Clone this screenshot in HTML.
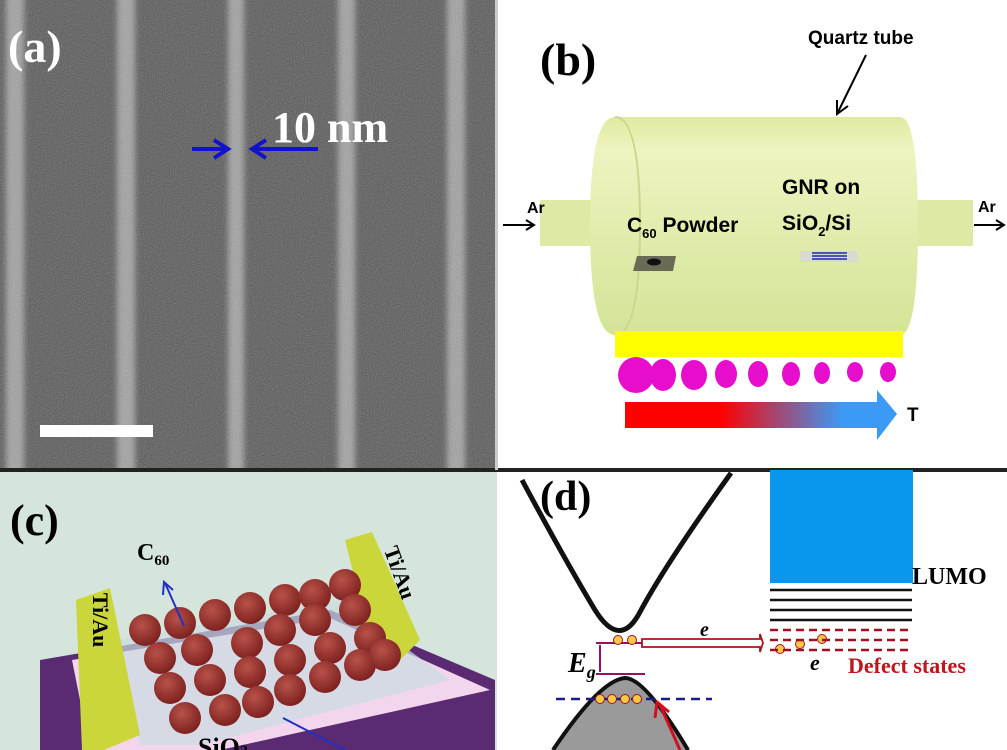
<!DOCTYPE html>
<html><head><meta charset="utf-8"><style>
html,body{margin:0;padding:0;background:#fff;}
svg{display:block;}
</style></head><body>
<svg width="1007" height="750" viewBox="0 0 1007 750" xmlns="http://www.w3.org/2000/svg">
<defs>
<filter id="noise" x="0" y="0" width="100%" height="100%">
<feTurbulence type="fractalNoise" baseFrequency="0.9" numOctaves="2" seed="3"/>
<feColorMatrix type="saturate" values="0"/>
<feComponentTransfer><feFuncA type="table" tableValues="0 0.45"/></feComponentTransfer>
</filter>
<filter id="blur"><feGaussianBlur stdDeviation="3"/></filter>
<linearGradient id="tg" x1="0" x2="1"><stop offset="0.35" stop-color="#f00"/><stop offset="0.8" stop-color="#3a9af5"/></linearGradient>
<linearGradient id="cyl" x1="0" y1="0" x2="0" y2="1"><stop offset="0" stop-color="#dfeaa0"/><stop offset="0.15" stop-color="#eef3c0"/><stop offset="1" stop-color="#d3e497"/></linearGradient>
<radialGradient id="ball" cx="0.4" cy="0.35" r="0.7"><stop offset="0" stop-color="#b8524a"/><stop offset="1" stop-color="#7a1e1c"/></radialGradient>
</defs>
<!-- panel a -->
<rect x="0" y="0" width="496" height="468" fill="#545454"/>
<g fill="#a0a0a0" filter="url(#blur)">
<rect x="6" y="-10" width="18" height="490"/><rect x="117" y="-10" width="18" height="490"/>
<rect x="228" y="-10" width="16" height="490"/><rect x="338" y="-10" width="17" height="490"/>
<rect x="447" y="-10" width="18" height="490"/></g>
<rect x="0" y="0" width="496" height="468" filter="url(#noise)"/>
<rect x="40" y="425" width="113" height="12" fill="#fff"/>
<text x="8" y="62" font-family="Liberation Serif" font-weight="bold" font-size="46" fill="#fff">(a)</text>
<text x="272" y="142" font-family="Liberation Serif" font-weight="bold" font-size="44" fill="#fff">10 nm</text>
<g stroke="#1212c8" stroke-width="4" fill="none"><line x1="192" y1="149" x2="226" y2="149"/><polyline points="214,140 228,149 214,158"/><line x1="318" y1="149" x2="254" y2="149"/><polyline points="266,140 252,149 266,158"/></g>
<rect x="0" y="468" width="1007" height="4" fill="#222"/>
<rect x="495" y="0" width="3" height="470" fill="#ccc"/>
<!-- panel b -->
<rect x="540" y="200" width="60" height="46" fill="#d9e79a" opacity="0.9"/>
<rect x="900" y="200" width="73" height="46" fill="#d9e79a" opacity="0.9"/>
<path d="M615 117 L900 117 Q918 117 918 225 Q918 335 900 335 L615 335 Q590 335 590 225 Q590 117 615 117Z" fill="url(#cyl)"/>
<path d="M615 117 Q640 117 640 225 Q640 335 615 335" fill="none" stroke="#c8d88a" stroke-width="2"/>
<text x="527" y="213" font-family="Liberation Sans" font-size="16" font-weight="bold">Ar</text>
<g stroke="#000" stroke-width="2"><line x1="503" y1="225" x2="533" y2="225"/><polyline points="526,220 534,225 526,230" fill="none"/>
<line x1="974" y1="225" x2="1003" y2="225"/><polyline points="996,220 1004,225 996,230" fill="none"/>
<line x1="866" y1="55" x2="838" y2="112"/><polyline points="837,100 837,114 848,106" fill="none"/></g>
<text x="978" y="212" font-family="Liberation Sans" font-size="16" font-weight="bold">Ar</text>
<text x="808" y="44" font-family="Liberation Sans" font-size="19" font-weight="bold">Quartz tube</text>
<text x="627" y="232" font-family="Liberation Sans" font-size="21" font-weight="bold">C<tspan font-size="13" dy="6">60</tspan><tspan dy="-6"> Powder</tspan></text>
<text x="782" y="194" font-family="Liberation Sans" font-size="21" font-weight="bold">GNR on</text>
<text x="782" y="230" font-family="Liberation Sans" font-size="21" font-weight="bold">SiO<tspan font-size="13" dy="6">2</tspan><tspan dy="-6">/Si</tspan></text>
<polygon points="637,256 676,256 673,271 633,271" fill="#6b6b55"/><ellipse cx="654" cy="262" rx="7" ry="3.5" fill="#111"/>
<polygon points="800,251 858,251 858,262 800,262" fill="#d8dcd0"/>
<g stroke="#1a2aa8" stroke-width="1.5"><line x1="812" y1="253" x2="847" y2="253"/><line x1="812" y1="256" x2="847" y2="256"/><line x1="812" y1="259" x2="847" y2="259"/></g>
<rect x="615" y="331" width="288" height="26" fill="#ffff00"/>
<g fill="#e60ecc"><ellipse cx="636" cy="375" rx="18" ry="18"/><ellipse cx="663" cy="375" rx="13" ry="16"/><ellipse cx="694" cy="375" rx="13" ry="15"/><ellipse cx="726" cy="374" rx="11" ry="14"/><ellipse cx="758" cy="374" rx="10" ry="13"/><ellipse cx="791" cy="374" rx="9" ry="12"/><ellipse cx="822" cy="373" rx="8" ry="11"/><ellipse cx="855" cy="372" rx="8" ry="10"/><ellipse cx="888" cy="372" rx="8" ry="10"/></g>
<polygon points="625,402 877,402 877,390 897,414 877,440 877,428 625,428" fill="url(#tg)"/>
<text x="907" y="421" font-family="Liberation Sans" font-size="19" font-weight="bold">T</text>
<text x="540" y="75" font-family="Liberation Serif" font-weight="bold" font-size="46">(b)</text>
<!-- panel c -->
<rect x="0" y="472" width="497" height="278" fill="#d5e5db"/>
<text x="10" y="535" font-family="Liberation Serif" font-weight="bold" font-size="44">(c)</text>
<polygon points="40,660 330,610 495,680 495,750 40,750" fill="#5a2a72"/>
<polygon points="72,660 330,618 490,690 220,750 90,750" fill="#f3d6ee"/>
<polygon points="120,640 340,600 450,680 200,745 140,745" fill="#c7dce0" opacity="0.7"/>
<polygon points="76,600 110,588 140,735 104,750 82,750" fill="#cad63a"/>
<polygon points="345,540 372,532 420,640 400,660 375,660" fill="#cad63a"/>
<text transform="translate(93,620) rotate(90)" font-family="Liberation Serif" font-weight="bold" font-size="22" text-anchor="middle">Ti/Au</text>
<text transform="translate(393,575) rotate(70)" font-family="Liberation Serif" font-weight="bold" font-size="22" text-anchor="middle">Ti/Au</text>
<g fill="url(#ball)">
<circle cx="145" cy="630" r="16"/><circle cx="180" cy="623" r="16"/><circle cx="215" cy="615" r="16"/><circle cx="250" cy="608" r="16"/><circle cx="285" cy="600" r="16"/><circle cx="315" cy="595" r="16"/><circle cx="345" cy="585" r="16"/>
<circle cx="160" cy="658" r="16"/><circle cx="197" cy="650" r="16"/><circle cx="247" cy="643" r="16"/><circle cx="280" cy="630" r="16"/><circle cx="315" cy="620" r="16"/><circle cx="355" cy="610" r="16"/>
<circle cx="170" cy="688" r="16"/><circle cx="210" cy="680" r="16"/><circle cx="250" cy="672" r="16"/><circle cx="290" cy="660" r="16"/><circle cx="330" cy="648" r="16"/><circle cx="370" cy="638" r="16"/>
<circle cx="185" cy="718" r="16"/><circle cx="225" cy="710" r="16"/><circle cx="258" cy="702" r="16"/><circle cx="290" cy="690" r="16"/><circle cx="325" cy="677" r="16"/><circle cx="360" cy="665" r="16"/><circle cx="385" cy="655" r="16"/>
</g>
<text x="137" y="560" font-family="Liberation Serif" font-weight="bold" font-size="24">C<tspan font-size="15" dy="5">60</tspan></text>
<g stroke="#2030c0" stroke-width="2" fill="none"><line x1="184" y1="626" x2="165" y2="583"/><polyline points="163,595 164,582 173,590"/><line x1="283" y1="718" x2="345" y2="750"/></g>
<text x="198" y="756" font-family="Liberation Serif" font-weight="bold" font-size="26">SiO<tspan font-size="16">2</tspan></text>
<!-- panel d -->
<rect x="497" y="472" width="510" height="278" fill="#fff"/>
<path d="M522 480 Q565 560 595 610 Q620 650 640 612 Q665 565 731 473" fill="none" stroke="#111" stroke-width="5"/>
<path d="M553 750 Q600 680 625 678 Q645 678 690 750Z" fill="#9a9a9a"/>
<path d="M553 750 Q600 680 625 678 Q645 678 688 750" fill="none" stroke="#111" stroke-width="4"/>
<line x1="556" y1="699" x2="712" y2="699" stroke="#1a1a8a" stroke-width="2.5" stroke-dasharray="9,6"/>
<text x="540" y="510" font-family="Liberation Serif" font-weight="bold" font-size="42">(d)</text>
<g stroke="#9a1060" stroke-width="2"><line x1="596" y1="643" x2="645" y2="643"/><line x1="596" y1="674" x2="645" y2="674"/><line x1="600" y1="645" x2="600" y2="672"/></g>
<text x="568" y="672" font-family="Liberation Serif" font-style="italic" font-weight="bold" font-size="28">E<tspan font-size="18" dy="6">g</tspan></text>
<g fill="#f7c940" stroke="#a01030" stroke-width="1"><circle cx="618" cy="640" r="4.5"/><circle cx="632" cy="640" r="4.5"/><circle cx="600" cy="699" r="4.5"/><circle cx="612" cy="699" r="4.5"/><circle cx="625" cy="699" r="4.5"/><circle cx="637" cy="699" r="4.5"/><circle cx="780" cy="649" r="4.5"/><circle cx="800" cy="644" r="4.5"/><circle cx="822" cy="639" r="4.5"/></g>
<path d="M642 639 L760 639 L760 634 L763 643 L760 652 L760 647 L642 647Z" fill="#fff" stroke="#b01020" stroke-width="1.8"/>
<text x="700" y="636" font-family="Liberation Serif" font-style="italic" font-weight="bold" font-size="20">e</text>
<rect x="770" y="470" width="143" height="113" fill="#0896ef"/>
<text x="912" y="584" font-family="Liberation Serif" font-weight="bold" font-size="24">LUMO</text>
<g stroke="#111" stroke-width="2.5"><line x1="770" y1="590" x2="912" y2="590"/><line x1="770" y1="600" x2="912" y2="600"/><line x1="770" y1="610" x2="912" y2="610"/><line x1="770" y1="620" x2="912" y2="620"/></g>
<g stroke="#a01020" stroke-width="2.5" stroke-dasharray="8,5"><line x1="770" y1="630" x2="912" y2="630"/><line x1="770" y1="640" x2="912" y2="640"/><line x1="770" y1="650" x2="912" y2="650"/></g>
<text x="810" y="670" font-family="Liberation Serif" font-style="italic" font-weight="bold" font-size="22">e</text>
<text x="848" y="673" font-family="Liberation Serif" font-weight="bold" font-size="22" fill="#c0141e">Defect states</text>
<g stroke="#d01020" stroke-width="3" fill="none"><line x1="680" y1="750" x2="660" y2="705"/><polyline points="655,718 657,702 669,712"/></g>
</svg>
</body></html>
